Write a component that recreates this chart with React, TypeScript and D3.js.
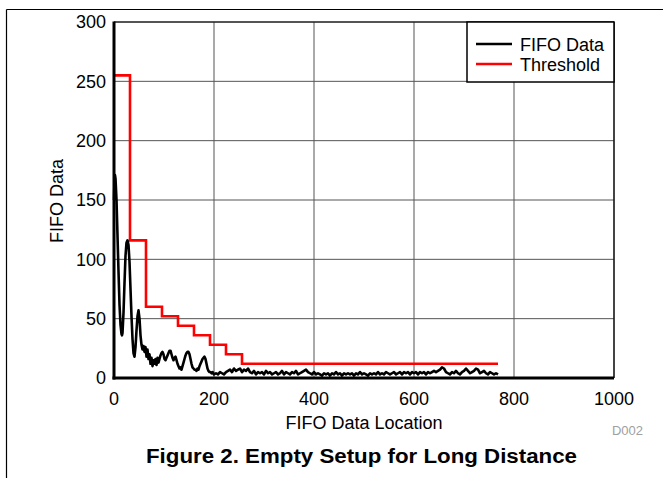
import React from "react";
import * as d3 from "d3";

// FIFO data: early segment as [location, value] pairs
const fifoEarly: [number, number][] = [
  [0, 150], [1, 168], [2, 171], [3, 168], [5, 150], [7, 120], [9, 90], [11, 62], [13, 45], [15, 37],
  [16, 36], [17, 38], [19, 55], [21, 80], [23, 103], [25, 114], [27, 116], [29, 112], [31, 98], [33, 75],
  [35, 52], [37, 33], [39, 21], [41, 18], [43, 26], [45, 40], [47, 52], [49, 57], [51, 50], [53, 36],
  [55, 28], [57, 24], [59, 27], [61, 22], [63, 26], [65, 18], [67, 24], [69, 16], [71, 20], [73, 12],
  [75, 17], [77, 10], [79, 15], [81, 12], [83, 16], [85, 11], [87, 17], [89, 13], [91, 16], [93, 19],
  [95, 21], [97, 22], [99, 20], [101, 16], [103, 15], [105, 17], [107, 19], [109, 21], [111, 23], [113, 23],
  [115, 20], [117, 17], [119, 15], [121, 17], [123, 18], [125, 15], [127, 12], [129, 10], [131, 8], [133, 9],
  [135, 7], [137, 10], [139, 13], [141, 16], [143, 19], [145, 21], [147, 22], [149, 22], [151, 20], [153, 16],
  [155, 12], [157, 9], [159, 8], [161, 7], [163, 7], [165, 6], [167, 8], [169, 7], [171, 10], [173, 12],
  [175, 14], [177, 16], [179, 17], [181, 18], [183, 16], [185, 12], [187, 8], [189, 6], [191, 5], [193, 5],
  [195, 4], [197, 5],
];

// FIFO data tail: locations 200..768, every 4 samples
const fifoTailStart = 200;
const fifoTailStep = 4;
const fifoTail: number[] = [
  3, 4, 3, 5, 4, 3, 5, 6, 7, 5, 8, 6, 7, 8, 5, 7, 6, 8, 5, 4,
  6, 3, 5, 4, 5, 3, 6, 4, 5, 3, 4, 5, 3, 4, 6, 3, 5, 4, 3, 5,
  4, 6, 3, 4, 5, 6, 7, 5, 4, 3, 5, 3, 4, 3, 2, 4, 3, 4, 2, 4,
  3, 5, 3, 4, 2, 4, 3, 4, 3, 4, 2, 4, 3, 5, 3, 4, 3, 2, 4, 3,
  4, 3, 5, 3, 4, 3, 5, 4, 3, 4, 5, 3, 4, 5, 3, 5, 4, 5, 3, 5,
  4, 5, 3, 5, 4, 5, 3, 5, 4, 5, 6, 5, 6, 7, 9, 8, 5, 4, 3, 5,
  4, 6, 4, 3, 5, 6, 8, 6, 4, 5, 6, 8, 7, 4, 5, 6, 4, 3, 5, 4,
  3, 4, 3,
];

// Threshold steps: [start location, value]
const thresholdSteps: [number, number][] = [
  [0, 255], [32, 116], [64, 60], [96, 52], [128, 44], [160, 36],
  [192, 28], [224, 20], [256, 12], [768, 12],
];

const xTicks = [0, 200, 400, 600, 800, 1000];
const yTicks = [0, 50, 100, 150, 200, 250, 300];

const W = 669;
const H = 478;
const FONT = "'Liberation Sans', Arial, Helvetica, sans-serif";
const FS = 18;

export default function App() {
  const x = d3.scaleLinear().domain([0, 1000]).range([114, 614]);
  const y = d3.scaleLinear().domain([0, 300]).range([378, 22]);

  const fifoData: [number, number][] = [
    ...fifoEarly,
    ...fifoTail.map((v, i) => [fifoTailStart + i * fifoTailStep, v] as [number, number]),
  ];

  const line = d3
    .line<[number, number]>()
    .x((d) => x(d[0]))
    .y((d) => y(d[1]))
    .curve(d3.curveLinear);
  const stepLine = d3
    .line<[number, number]>()
    .x((d) => x(d[0]))
    .y((d) => y(d[1]))
    .curve(d3.curveStepAfter);

  const [x0, x1] = x.range();
  const [y0, y1] = y.range();

  return (
    <svg
      width={W}
      height={H}
      style={{ position: "absolute", left: 0, top: 0, background: "#fff" }}
      fontFamily={FONT}
    >
      {/* outer frame */}
      <line x1={6.5} y1={9.5} x2={663} y2={9.5} stroke="#000" strokeWidth={1.2} />
      <line x1={6.5} y1={9.5} x2={6.5} y2={H} stroke="#000" strokeWidth={1.2} />

      {/* grid */}
      {xTicks.slice(1).map((t) => (
        <line key={"gx" + t} x1={x(t)} x2={x(t)} y1={y1} y2={y0} stroke="#555" strokeWidth={1} />
      ))}
      {yTicks.slice(1).map((t) => (
        <line key={"gy" + t} x1={x0} x2={x1} y1={y(t)} y2={y(t)} stroke="#555" strokeWidth={1} />
      ))}
      {/* plot frame top/right */}
      <line x1={x0} x2={x1} y1={y1} y2={y1} stroke="#000" strokeWidth={1.2} />
      <line x1={x1} x2={x1} y1={y1} y2={y0} stroke="#000" strokeWidth={1.2} />

      {/* series */}
      <path d={stepLine(thresholdSteps) || ""} fill="none" stroke="#ff0000" strokeWidth={2.6} />
      <path d={line(fifoData) || ""} fill="none" stroke="#000" strokeWidth={2.6} strokeLinejoin="round" />

      {/* axes */}
      <line x1={x0} x2={x0} y1={y1 - 0.5} y2={y0 + 1.5} stroke="#000" strokeWidth={3} />
      <line x1={x0 - 1.5} x2={x1} y1={y0} y2={y0} stroke="#000" strokeWidth={3} />

      {/* tick labels */}
      {yTicks.map((t) => (
        <text key={"ty" + t} x={106} y={y(t)} dy="0.36em" textAnchor="end" fontSize={FS} fill="#000">
          {t}
        </text>
      ))}
      {xTicks.map((t) => (
        <text key={"tx" + t} x={x(t)} y={405} textAnchor="middle" fontSize={FS} fill="#000">
          {t}
        </text>
      ))}

      {/* axis titles */}
      <text x={364} y={429} textAnchor="middle" fontSize={FS} fill="#000">
        FIFO Data Location
      </text>
      <text
        transform={`translate(63, 201) rotate(-90)`}
        textAnchor="middle"
        fontSize={FS}
        fill="#000"
      >
        FIFO Data
      </text>

      {/* legend */}
      <rect x={467} y={y1} width={x1 - 467} height={60} fill="#fff" stroke="#000" strokeWidth={1.5} />
      <line x1={476} x2={512} y1={44} y2={44} stroke="#000" strokeWidth={2.5} />
      <text x={520} y={50.5} fontSize={FS} fill="#000">FIFO Data</text>
      <line x1={476} x2={512} y1={64} y2={64} stroke="#ff0000" strokeWidth={2.5} />
      <text x={520} y={71} fontSize={FS} fill="#000">Threshold</text>

      {/* footnote & caption */}
      <text x={643} y={435} textAnchor="end" fontSize={13} fill="#a0a0a0">D002</text>
      <text
        x={361.5}
        y={463}
        textAnchor="middle"
        fontSize={20}
        fontWeight="bold"
        fill="#000"
        textLength={431}
        lengthAdjust="spacingAndGlyphs"
      >
        Figure 2. Empty Setup for Long Distance
      </text>
    </svg>
  );
}
